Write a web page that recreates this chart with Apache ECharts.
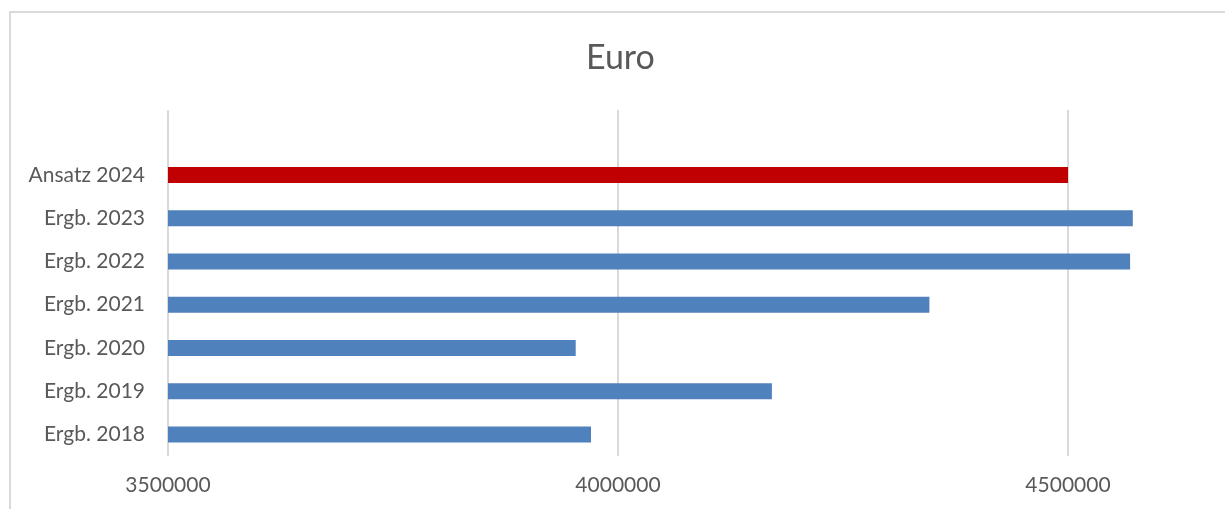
<!DOCTYPE html>
<html>
<head>
<meta charset="utf-8">
<script src="https://cdn.jsdelivr.net/npm/echarts@6/dist/echarts.min.js"></script>
<style>
  html, body { margin: 0; padding: 0; background: #ffffff; overflow: hidden; width: 1225px; height: 509px; }
  /* the chart frame runs past the right edge of the window */
  #chart { width: 1518px; height: 509px; }
</style>
</head>
<body>
<div id="chart"></div>
<script>
// Categories listed bottom to top; the empty slot leaves room above the first bar
const categories = ['Ergb. 2018', 'Ergb. 2019', 'Ergb. 2020', 'Ergb. 2021', 'Ergb. 2022', 'Ergb. 2023', 'Ansatz 2024', ''];
const values = [3970000, 4171000, 3953000, 4346000, 4569000, 4572000, 4500000, null];
const highlighted = ['Ansatz 2024'];
const axisMin = 3500000;
const axisMax = 5000000;
const axisStep = 500000;

const FONT = 'Lato, "Open Sans", sans-serif';
const TEXT = '#595959';
const GRID = '#d9d9d9';

const chart = echarts.init(document.getElementById('chart'), null, { renderer: 'canvas', width: 1518, height: 509 });

chart.setOption({
  backgroundColor: '#ffffff',
  animation: false,
  title: {
    text: 'Euro',
    left: 581,
    top: 36,
    textStyle: { fontFamily: FONT, fontSize: 34, fontWeight: 'normal', color: TEXT }
  },
  graphic: [{
    type: 'rect',
    shape: { x: 10, y: 12, width: 2000, height: 1000 },
    style: { fill: 'none', stroke: GRID, lineWidth: 2 },
    silent: true,
    z: -10
  }],
  grid: { left: 168, top: 110, bottom: 53, right: 0, containLabel: false, outerBoundsMode: 'none' },
  xAxis: {
    type: 'value',
    min: axisMin,
    max: axisMax,
    interval: axisStep,
    axisLine: { show: false },
    axisTick: { show: false },
    splitLine: { show: true, lineStyle: { color: GRID, width: 2 } },
    axisLabel: {
      fontFamily: FONT, fontSize: 21, color: TEXT, margin: 19,
      formatter: v => String(v)
    }
  },
  yAxis: {
    type: 'category',
    data: categories,
    axisLine: { show: false },
    axisTick: { show: false },
    splitLine: { show: false },
    axisLabel: { fontFamily: FONT, fontSize: 21, color: TEXT, margin: 23 }
  },
  series: [{
    type: 'bar',
    barWidth: 16,
    data: values.map((v, i) => ({
      value: v,
      itemStyle: { color: highlighted.includes(categories[i]) ? '#c00000' : '#4f81bd' }
    }))
  }]
});
</script>
</body>
</html>
